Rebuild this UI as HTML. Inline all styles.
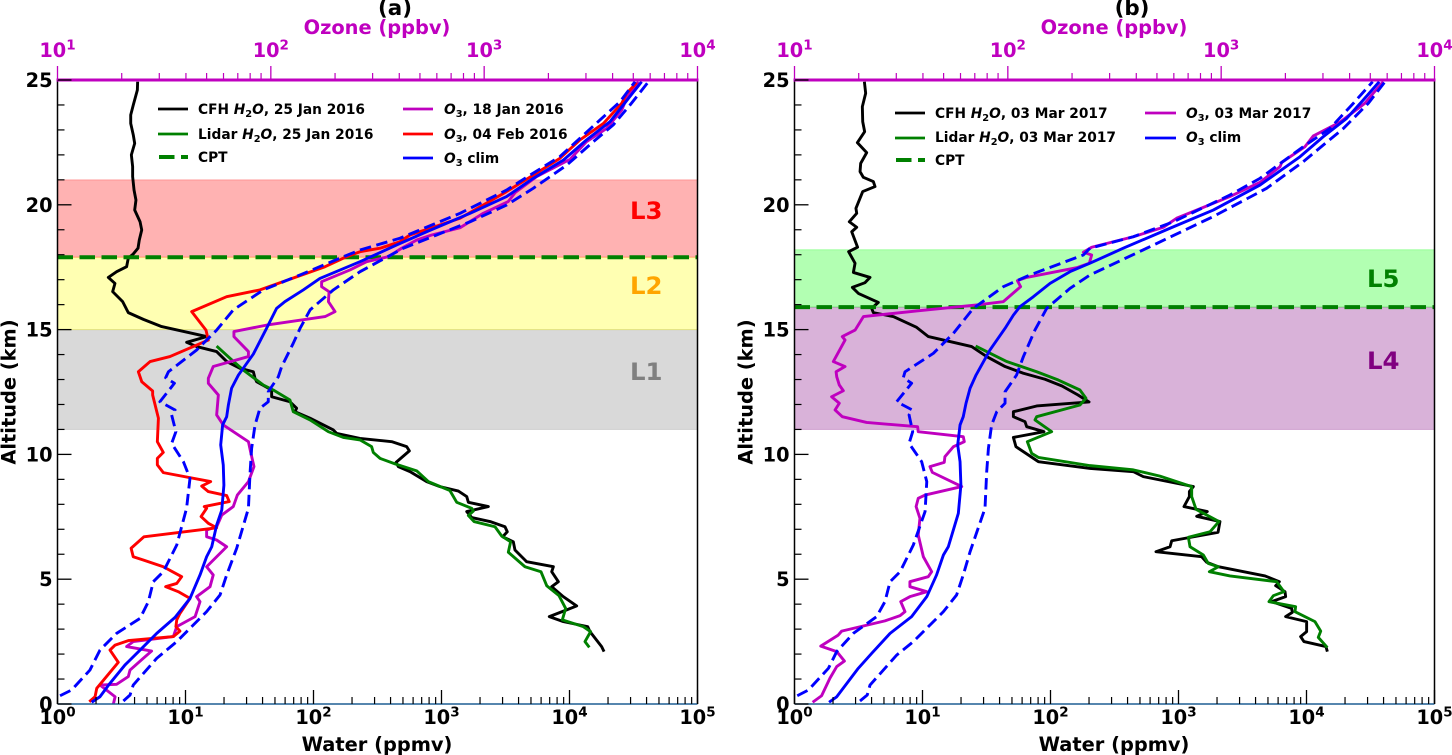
<!DOCTYPE html>
<html lang="en">
<head>
<meta charset="utf-8">
<title>Water vapour and ozone profiles</title>
<style>
html,body{margin:0;padding:0;background:#fff;width:1452px;height:755px;overflow:hidden}
svg{display:block}
text{font-family:"DejaVu Sans","Liberation Sans",sans-serif;font-weight:bold}
.leg{font-size:13.75px;fill:#000}
.m{font-style:italic}
.s{font-size:9.8px}
.tt{font-size:19.4px}
.reg{font-size:24.4px}
</style>
</head>
<body>
<svg id="chart" xmlns="http://www.w3.org/2000/svg" width="1452" height="755" viewBox="0 0 1452 755">
  <defs>
    <clipPath id="clip-a"><rect x="57.5" y="80" width="640" height="624"/></clipPath>
    <clipPath id="clip-b"><rect x="794.5" y="80" width="640" height="624"/></clipPath>
  </defs>
  <g id="panel-a"></g>
  <g id="panel-b"></g>

  <g>
    <text x="395" y="15" text-anchor="middle" font-size="21.4">(a)</text>
    <text class="tt" x="377" y="34" text-anchor="middle" fill="#bf00bf">Ozone (ppbv)</text>
    <text class="tt" x="377" y="751" text-anchor="middle">Water (ppmv)</text>
    <text class="tt" transform="translate(15.5,392) rotate(-90)" text-anchor="middle">Altitude (km)</text>
    <text class="reg" x="630" y="219" fill="#ff0000">L3</text>
    <text class="reg" x="630" y="294" fill="#ffa500">L2</text>
    <text class="reg" x="630" y="380" fill="#808080">L1</text>
    <g>
      <line x1="158" x2="188" y1="109" y2="109" stroke="#000" stroke-width="2.7"/>
      <line x1="158" x2="188" y1="134" y2="134" stroke="#008000" stroke-width="2.7"/>
      <line x1="159" x2="188" y1="157" y2="157" stroke="#008000" stroke-width="4" stroke-dasharray="15.5 6.5"/>
      <line x1="403" x2="433" y1="109" y2="109" stroke="#bf00bf" stroke-width="2.7"/>
      <line x1="403" x2="433" y1="134" y2="134" stroke="#ff0000" stroke-width="2.7"/>
      <line x1="403" x2="433" y1="158" y2="158" stroke="#0000ff" stroke-width="2.7"/>
      <text class="leg" x="198" y="114">CFH <tspan class="m">H</tspan><tspan class="s" dy="3">2</tspan><tspan class="m" dy="-3">O</tspan>, 25 Jan 2016</text>
      <text class="leg" x="198" y="139">Lidar <tspan class="m">H</tspan><tspan class="s" dy="3">2</tspan><tspan class="m" dy="-3">O</tspan>, 25 Jan 2016</text>
      <text class="leg" x="198" y="162">CPT</text>
      <text class="leg" x="444" y="114"><tspan class="m">O</tspan><tspan class="s" dy="3">3</tspan><tspan dy="-3">, 18 Jan 2016</tspan></text>
      <text class="leg" x="444" y="139"><tspan class="m">O</tspan><tspan class="s" dy="3">3</tspan><tspan dy="-3">, 04 Feb 2016</tspan></text>
      <text class="leg" x="444" y="163"><tspan class="m">O</tspan><tspan class="s" dy="3">3</tspan><tspan dy="-3"> clim</tspan></text>
    </g>
  </g>

  <g>
    <text x="1132" y="15" text-anchor="middle" font-size="21.4">(b)</text>
    <text class="tt" x="1114" y="34" text-anchor="middle" fill="#bf00bf">Ozone (ppbv)</text>
    <text class="tt" x="1114" y="751" text-anchor="middle">Water (ppmv)</text>
    <text class="tt" transform="translate(752.5,392) rotate(-90)" text-anchor="middle">Altitude (km)</text>
    <text class="reg" x="1367" y="287" fill="#008000">L5</text>
    <text class="reg" x="1367" y="369" fill="#800080">L4</text>
    <g>
      <line x1="895" x2="925" y1="113" y2="113" stroke="#000" stroke-width="2.7"/>
      <line x1="895" x2="925" y1="138" y2="138" stroke="#008000" stroke-width="2.7"/>
      <line x1="896" x2="925" y1="160" y2="160" stroke="#008000" stroke-width="4" stroke-dasharray="15.5 6.5"/>
      <line x1="1145" x2="1176" y1="113" y2="113" stroke="#bf00bf" stroke-width="2.7"/>
      <line x1="1145" x2="1176" y1="138" y2="138" stroke="#0000ff" stroke-width="2.7"/>
      <text class="leg" x="935" y="118">CFH <tspan class="m">H</tspan><tspan class="s" dy="3">2</tspan><tspan class="m" dy="-3">O</tspan>, 03 Mar 2017</text>
      <text class="leg" x="935" y="142">Lidar <tspan class="m">H</tspan><tspan class="s" dy="3">2</tspan><tspan class="m" dy="-3">O</tspan>, 03 Mar 2017</text>
      <text class="leg" x="935" y="165">CPT</text>
      <text class="leg" x="1186" y="118"><tspan class="m">O</tspan><tspan class="s" dy="3">3</tspan><tspan dy="-3">, 03 Mar 2017</tspan></text>
      <text class="leg" x="1186" y="142"><tspan class="m">O</tspan><tspan class="s" dy="3">3</tspan><tspan dy="-3"> clim</tspan></text>
    </g>
  </g>
</svg>

<script>
// Axis tick values
const waterDecades = [0, 1, 2, 3, 4, 5];
const ozoneDecades = [1, 2, 3, 4];
const altitudeMajor = [0, 5, 10, 15, 20, 25];
const altitudeMinor = [1, 2, 3, 4, 6, 7, 8, 9, 11, 12, 13, 14, 16, 17, 18, 19, 21, 22, 23, 24];
const minorMultiples = [2, 3, 4, 5, 6, 7, 8, 9];

// Layer altitude bounds (km)
const layersA = [[11, 15], [15, 17.9], [17.9, 21]];
const layersB = [[11, 15.9], [15.9, 18.2]];
// Cold point tropopause altitude (km)
const cptA = 17.9;
const cptB = 15.9;

// Profiles, every pair is [altitude km, log10 of mixing ratio]; water in ppmv, ozone in ppbv
const cfhWaterA = [[24.93,.626],[24.6,.624],[24,.592],[23.6,.572],[23.26,.572],[22.8,.592],[22.46,.603],[22,.577],[21.53,.587],[21.13,.587],[20.59,.598],[20.19,.613],[19.79,.603],[19.32,.645],[18.99,.658],[18.59,.639],[18.26,.629],[18.03,.592],[17.86,.553],[17.52,.54],[17.32,.462],[17.09,.397],[16.85,.449],[16.52,.431],[16.12,.509],[15.68,.553],[15.41,.671],[15.12,.814],[14.72,1.165],[14.49,1.009],[14.32,1.087],[14.12,1.243],[13.72,1.322],[13.45,1.426],[13.31,1.53],[13.05,1.543],[12.91,1.556],[12.58,1.673],[12.31,1.673],[12.11,1.816],[11.85,1.868],[11.71,1.855],[11.45,1.973],[10.98,2.155],[10.84,2.181],[10.64,2.363],[10.51,2.611],[10.31,2.728],[10.14,2.749],[9.68,2.645],[9.51,2.663],[9.31,2.754],[8.91,2.884],[8.71,2.988],[8.53,3.132],[8.31,3.197],[8.08,3.21],[7.91,3.366],[7.71,3.197],[7.47,3.236],[7.31,3.379],[7.1,3.496],[6.9,3.514],[6.7,3.478],[6.5,3.561],[6.17,3.574],[5.77,3.652],[5.7,3.665],[5.5,3.874],[5.3,3.861],[4.9,3.913],[4.7,3.861],[4.3,3.952],[3.93,4.056],[3.77,3.978],[3.5,3.842],[3.3,3.952],[3.1,4.142],[2.9,4.16],[2.3,4.251],[2.1,4.27]];
const lidarWaterA = [[14.34,1.243],[13.85,1.348],[13.38,1.452],[12.98,1.556],[12.78,1.608],[12.58,1.686],[12.18,1.816],[11.71,1.842],[11.38,1.973],[10.91,2.116],[10.68,2.233],[10.58,2.363],[10.31,2.454],[10.08,2.467],[9.84,2.52],[9.62,2.637],[9.34,2.806],[8.91,2.897],[8.55,3.066],[8.08,3.119],[7.84,3.236],[7.73,3.249],[7.55,3.21],[7.31,3.254],[7.1,3.418],[6.73,3.47],[6.5,3.54],[6.08,3.522],[5.5,3.652],[5.3,3.777],[4.74,3.822],[4.34,3.918],[3.83,3.97],[3.37,3.944],[3.1,4.108],[2.9,4.165],[2.5,4.121],[2.27,4.155]];
const ozoneJan18A = [[0,1.262],[.29,1.27],[.76,1.199],[.79,1.277],[1.1,1.332],[1.36,1.34],[1.83,1.402],[2.12,1.441],[2.3,1.324],[2.5,1.355],[2.7,1.543],[3.1,1.559],[3.5,1.645],[4.1,1.668],[4.3,1.652],[4.7,1.715],[5.17,1.73],[5.5,1.699],[6.3,1.793],[6.57,1.746],[6.7,1.699],[6.97,1.699],[7.1,1.746],[7.57,1.77],[7.91,1.824],[8.37,1.843],[8.91,1.895],[9.51,1.921],[10.11,1.905],[10.51,1.895],[11.18,1.777],[11.58,1.746],[12.38,1.754],[12.85,1.707],[13.05,1.707],[13.52,1.73],[13.92,1.895],[14.12,1.895],[14.72,1.827],[14.92,1.827],[15.18,1.98],[15.52,2.254],[15.72,2.301],[16.12,2.27],[16.52,2.273],[16.72,2.238],[16.92,2.238],[17.39,2.371],[17.59,2.418],[17.72,2.449],[17.92,2.551],[18.26,2.613],[18.59,2.684],[18.79,2.754],[19.08,2.887],[19.66,2.996],[20.13,3.113],[20.49,3.145],[21.13,3.246],[21.82,3.402],[22.53,3.48],[23.06,3.574],[23.8,3.645],[24.27,3.668],[24.93,3.723]];
const ozoneFeb04A = [[.09,1.149],[.29,1.176],[.63,1.184],[1.67,1.285],[2.16,1.246],[2.36,1.27],[2.54,1.332],[2.7,1.543],[2.92,1.574],[3.1,1.555],[3.37,1.559],[3.63,1.574],[4.23,1.621],[4.5,1.566],[4.7,1.507],[4.83,1.559],[5.1,1.582],[5.5,1.496],[5.77,1.402],[5.9,1.355],[6.24,1.345],[6.7,1.405],[7.06,1.746],[7.24,1.707],[7.51,1.673],[7.84,1.699],[7.91,1.688],[8.11,1.805],[8.35,1.793],[8.51,1.707],[8.73,1.676],[8.91,1.718],[9.27,1.496],[9.58,1.468],[9.84,1.468],[10.08,1.496],[10.51,1.468],[11.45,1.473],[12.38,1.446],[12.54,1.446],[12.91,1.395],[13.31,1.379],[13.72,1.434],[13.92,1.527],[14.58,1.707],[14.98,1.696],[15.72,1.629],[16.32,1.793],[16.59,1.949],[17.52,2.254],[17.92,2.355],[18.12,2.418],[18.26,2.512],[18.52,2.605],[18.79,2.652],[19.46,2.887],[20.53,3.105],[21.19,3.23],[21.86,3.355],[22.6,3.449],[23.26,3.559],[24.07,3.645],[24.47,3.668],[24.89,3.715]];
const ozoneClimA = [[.07,1.16],[.29,1.199],[.83,1.246],[1.56,1.316],[2.16,1.387],[2.83,1.465],[3.47,1.551],[4.23,1.621],[5.17,1.668],[5.9,1.699],[6.3,1.723],[7.17,1.746],[7.77,1.77],[8.77,1.78],[9.58,1.777],[10.38,1.765],[11.18,1.774],[11.51,1.793],[11.98,1.801],[12.65,1.816],[13.18,1.848],[14.02,1.918],[15.05,1.98],[15.85,2.027],[16.12,2.066],[16.59,2.152],[17.05,2.23],[17.72,2.418],[18.39,2.59],[18.92,2.73],[19.66,2.934],[20.33,3.105],[21.06,3.23],[21.79,3.371],[22.6,3.48],[23.33,3.59],[24,3.652],[24.93,3.738]];
const ozoneClimLowA = [[.33,1.012],[.56,1.066],[1.36,1.152],[2.16,1.199],[2.83,1.277],[3.43,1.387],[4.1,1.426],[4.9,1.449],[5.3,1.496],[6.37,1.559],[7.84,1.605],[9.04,1.621],[9.71,1.59],[10.44,1.535],[10.91,1.555],[11.58,1.535],[11.78,1.551],[12.11,1.48],[12.85,1.548],[13.07,1.507],[13.31,1.52],[14.18,1.652],[14.98,1.746],[15.79,1.824],[16.59,1.965],[17.19,2.137],[17.92,2.34],[18.19,2.418],[18.66,2.605],[19.66,2.887],[20.59,3.105],[21.19,3.215],[21.93,3.355],[23.4,3.543],[24.13,3.637],[24.93,3.707]];
const ozoneClimHighA = [[.12,1.309],[.36,1.34],[.76,1.355],[1.83,1.465],[2.5,1.559],[3.7,1.699],[4.37,1.762],[5.17,1.793],[6.24,1.84],[7.84,1.895],[9.17,1.902],[10.24,1.91],[11.18,1.926],[11.85,1.949],[12.11,1.988],[12.51,1.988],[13.11,2.035],[13.52,2.051],[14.45,2.105],[15.05,2.137],[15.79,2.184],[16.59,2.293],[17.32,2.418],[18.26,2.621],[18.79,2.777],[19.32,2.934],[19.99,3.105],[20.66,3.23],[21.59,3.387],[22.53,3.512],[23.2,3.605],[24,3.684],[24.93,3.77]];

const cfhWaterB = [[24.93,.546],[24.47,.556],[23.93,.53],[23.33,.533],[22.93,.548],[22.49,.491],[22.09,.564],[21.66,.517],[21.33,.512],[21.1,.538],[20.93,.616],[20.73,.629],[20.53,.533],[19.86,.48],[19.66,.486],[19.32,.428],[19.1,.486],[18.92,.447],[18.3,.493],[18.12,.423],[17.66,.473],[17.29,.46],[17.09,.59],[16.88,.551],[16.69,.452],[16.45,.499],[16.09,.655],[15.85,.603],[15.68,.616],[15.52,.772],[15.09,.954],[14.72,1.046],[14.52,1.215],[14.32,1.384],[13.92,1.501],[13.52,1.645],[13.25,1.788],[13.01,1.957],[12.74,2.09],[12.38,2.215],[12.1,2.301],[11.94,1.892],[11.71,1.71],[11.51,1.71],[11.31,1.801],[11.11,1.814],[10.91,1.949],[10.68,1.71],[10.31,1.73],[9.71,1.905],[9.44,2.309],[9.31,2.647],[9.11,2.725],[8.71,3.116],[8.51,3.085],[8.31,3.085],[7.91,3.043],[7.71,3.225],[7.52,3.142],[7.31,3.324],[6.88,3.309],[6.54,2.947],[6.3,2.934],[6.1,2.824],[5.9,3.181],[5.68,3.22],[5.5,3.311],[5.13,3.676],[4.9,3.788],[4.74,3.759],[4.5,3.832],[4.3,3.837],[4.1,3.728],[3.83,3.884],[3.67,3.889],[3.5,3.837],[3.3,4.001],[2.9,4.001],[2.7,3.954],[2.5,3.98],[2.3,4.152],[2.1,4.163]];
const lidarWaterB = [[14.34,1.415],[13.72,1.658],[13.31,1.892],[12.98,2.061],[12.58,2.23],[12.25,2.277],[11.98,2.23],[11.51,1.892],[11.38,1.879],[10.91,2.009],[10.51,1.819],[10.04,1.853],[9.88,1.905],[9.55,2.309],[9.38,2.647],[9.13,2.855],[8.71,3.103],[8.31,3.103],[7.8,3.137],[7.31,3.316],[6.9,3.246],[6.68,3.077],[6.3,3.09],[5.97,3.194],[5.63,3.233],[5.5,3.311],[5.3,3.241],[5.13,3.402],[4.9,3.767],[4.5,3.824],[4.34,3.741],[4.1,3.707],[3.9,3.915],[3.7,3.91],[3.3,4.066],[2.92,4.111],[2.67,4.092],[2.26,4.163]];
const ozoneMar03B = [[.07,1.085],[.33,1.127],[.76,1.151],[1.03,1.166],[1.5,1.198],[1.72,1.234],[2.1,1.198],[2.32,1.123],[2.76,1.205],[2.92,1.221],[3.33,1.424],[3.54,1.495],[3.7,1.518],[4.1,1.498],[4.3,1.541],[4.5,1.62],[4.7,1.541],[4.9,1.541],[5.1,1.627],[5.3,1.643],[5.9,1.604],[6.77,1.58],[7.44,1.588],[7.91,1.57],[8.24,1.58],[8.37,1.612],[8.71,1.784],[9.28,1.646],[9.51,1.635],[9.68,1.702],[9.91,1.705],[10.31,1.745],[10.51,1.796],[10.71,1.791],[10.91,1.58],[11.11,1.577],[11.28,1.338],[11.51,1.224],[11.78,1.19],[12.05,1.21],[12.31,1.174],[12.55,1.229],[12.78,1.21],[13.11,1.198],[13.31,1.195],[13.52,1.237],[13.72,1.182],[14.58,1.237],[14.72,1.224],[14.98,1.284],[15.52,1.323],[15.75,1.573],[15.99,1.854],[16.12,1.979],[16.72,2.06],[16.96,2.045],[17.09,2.088],[17.48,2.323],[17.66,2.382],[17.99,2.393],[18.1,2.354],[18.3,2.393],[18.72,2.588],[19.1,2.729],[19.46,2.791],[20.33,3.041],[20.9,3.182],[21.53,3.276],[21.7,3.284],[22.33,3.393],[22.76,3.432],[23.31,3.557],[24.07,3.674],[24.47,3.713],[24.93,3.76]];
const ozoneClimB = [[.07,1.162],[.29,1.198],[1.43,1.299],[2.03,1.362],[2.83,1.448],[3.5,1.549],[4.3,1.62],[5.17,1.666],[5.97,1.698],[6.3,1.721],[7.64,1.768],[8.77,1.78],[9.71,1.776],[10.38,1.765],[11.18,1.776],[11.51,1.791],[12.05,1.804],[12.65,1.823],[13.18,1.851],[14.18,1.916],[15.05,1.987],[15.58,2.026],[15.92,2.057],[16.32,2.12],[16.85,2.198],[17.32,2.291],[17.66,2.385],[18.26,2.541],[19.06,2.76],[19.79,2.963],[20.79,3.182],[21.93,3.37],[22.73,3.479],[23.46,3.588],[24.2,3.666],[24.93,3.741]];
const ozoneClimLowB = [[.33,1.013],[.56,1.065],[1.43,1.159],[2.1,1.198],[2.83,1.276],[3.5,1.385],[4.1,1.424],[4.9,1.448],[5.3,1.495],[6.37,1.557],[7.71,1.612],[8.91,1.62],[9.71,1.596],[10.44,1.537],[10.91,1.554],[11.58,1.537],[11.78,1.552],[12.11,1.479],[12.85,1.549],[13.07,1.51],[13.31,1.518],[14.05,1.651],[14.85,1.745],[15.85,1.838],[16.72,1.979],[17.19,2.104],[17.99,2.354],[18.26,2.385],[18.72,2.588],[19.32,2.776],[20.39,3.041],[21.06,3.182],[22.33,3.385],[23.06,3.51],[24.07,3.62],[24.93,3.71]];
const ozoneClimHighB = [[.12,1.307],[.36,1.341],[.76,1.354],[1.96,1.479],[2.5,1.557],[3.7,1.698],[4.37,1.76],[5.17,1.791],[6.1,1.823],[7.84,1.893],[9.31,1.901],[10.24,1.909],[11.18,1.924],[11.71,1.948],[12.05,1.987],[12.51,1.987],[13.18,2.041],[13.92,2.073],[14.98,2.127],[15.85,2.182],[16.65,2.291],[17.19,2.385],[18.26,2.651],[19.53,2.963],[20.66,3.213],[21.73,3.385],[23.06,3.573],[24.07,3.69],[24.93,3.768]];

const NS = 'http://www.w3.org/2000/svg';
const AX_W = 640, AX_H = 624, AX_TOP = 80, AX_BOTTOM = 704;
const MAGENTA = '#bf00bf';

function make(parent, tag, attrs) {
  const el = document.createElementNS(NS, tag);
  for (const k in attrs) el.setAttribute(k, attrs[k]);
  parent.appendChild(el);
  return el;
}

function drawPanel(cfg) {
  const root = document.getElementById(cfg.id);
  const left = cfg.left;
  const yAlt = z => AX_BOTTOM - (z / 25) * AX_H;
  const xWater = v => left + (v / 5) * AX_W;
  const xOzone = v => left + ((v - 1) / 3) * AX_W;

  // Layer bands
  cfg.layers.forEach((b, i) => {
    const band = make(root, 'rect', {x: left, y: yAlt(b[1]), width: AX_W, height: yAlt(b[0]) - yAlt(b[1]), fill: cfg.layerColors[i], 'fill-opacity': .3, stroke: cfg.layerColors[i], 'stroke-opacity': .25, 'stroke-width': 1});
    
    
  });

  // Series
  const line = (pairs, xf, color, dash, name) => {
    const d = pairs.map((p, i) => (i ? 'L' : 'M') + xf(p[1]).toFixed(2) + ' ' + yAlt(p[0]).toFixed(2)).join('');
    const attrs = {d: d, fill: 'none', stroke: color, 'stroke-width': 2.9, 'stroke-linejoin': 'round', 'clip-path': 'url(#' + cfg.clip + ')'};
    if (dash) attrs['stroke-dasharray'] = dash;
    const el = make(root, 'path', attrs);
    
    
  };
  line(cfg.cfh, xWater, '#000000', null, 'cfh-water-line');
  line(cfg.lidar, xWater, '#008000', null, 'lidar-water-line');

  const cpt = make(root, 'line', {x1: left, x2: left + AX_W, y1: yAlt(cfg.cpt), y2: yAlt(cfg.cpt), stroke: '#008000', 'stroke-width': 4, 'stroke-dasharray': '15.5 6.5'});
  
  

  cfg.ozone.forEach(s => line(s.data, xOzone, s.color, null, s.name));
  line(cfg.clim, xOzone, '#0000ff', null, 'ozone-clim-line');
  line(cfg.climLow, xOzone, '#0000ff', '11.5 5.5', 'ozone-clim-lower-line');
  line(cfg.climHigh, xOzone, '#0000ff', '11.5 5.5', 'ozone-clim-upper-line');

  // Spines
  const spL = make(root, 'line', {x1: left, x2: left, y1: AX_TOP, y2: AX_BOTTOM, stroke: '#000', 'stroke-width': 1.5});
  
  
  const spR = make(root, 'line', {x1: left + AX_W, x2: left + AX_W, y1: AX_TOP, y2: AX_BOTTOM, stroke: '#000', 'stroke-width': 1.5});
  
  
  const spB = make(root, 'line', {x1: left, x2: left + AX_W, y1: AX_BOTTOM, y2: AX_BOTTOM, stroke: '#1f5f94', 'stroke-width': 1.5});
  
  
  const spT = make(root, 'line', {x1: left - 1, x2: left + AX_W + 1, y1: AX_TOP, y2: AX_TOP, stroke: MAGENTA, 'stroke-width': 3});
  
  

  // Altitude ticks
  altitudeMajor.forEach(z => {
    const t = make(root, 'line', {x1: left, x2: left + 14, y1: yAlt(z), y2: yAlt(z), stroke: '#000', 'stroke-width': 1.3});
    
    
    const lab = make(root, 'text', {x: left - 5, y: yAlt(z) + 7, 'text-anchor': 'end', 'font-size': 19.3});
    lab.textContent = String(z);
    
    
  });
  altitudeMinor.forEach(z => {
    const t = make(root, 'line', {x1: left, x2: left + 7, y1: yAlt(z), y2: yAlt(z), stroke: '#000', 'stroke-width': 1.2});
    
    
  });

  // Log-axis ticks and labels
  const powerLabel = (x, y, exp, color, name) => {
    const lab = make(root, 'text', {x: x, y: y, 'text-anchor': 'middle', 'font-size': 19.3, fill: color});
    
    
    const base = make(lab, 'tspan', {});
    base.textContent = '10';
    const sup = make(lab, 'tspan', {dy: -7.5, 'font-size': 13.5});
    sup.textContent = String(exp);
  };
  waterDecades.forEach(d => {
    const t = make(root, 'line', {x1: xWater(d), x2: xWater(d), y1: AX_BOTTOM, y2: AX_BOTTOM - 14, stroke: '#000', 'stroke-width': 1.3});
    
    
    powerLabel(xWater(d), 724, d, '#000', 'water-tick-label');
    if (d < 5) minorMultiples.forEach(m => {
      const x = xWater(d + Math.log10(m));
      const tm = make(root, 'line', {x1: x, x2: x, y1: AX_BOTTOM, y2: AX_BOTTOM - 7, stroke: '#000', 'stroke-width': 1.2});
      
      
    });
  });
  ozoneDecades.forEach(d => {
    const t = make(root, 'line', {x1: xOzone(d), x2: xOzone(d), y1: AX_TOP, y2: AX_TOP - 14, stroke: MAGENTA, 'stroke-width': 1.3});
    
    
    powerLabel(xOzone(d), 57, d, MAGENTA, 'ozone-tick-label');
    if (d < 4) minorMultiples.forEach(m => {
      const x = xOzone(d + Math.log10(m));
      const tm = make(root, 'line', {x1: x, x2: x, y1: AX_TOP, y2: AX_TOP - 7, stroke: MAGENTA, 'stroke-width': 1.2});
      
      
    });
  });
}

drawPanel({
  id: 'panel-a', clip: 'clip-a', left: 57.5,
  layers: layersA, layerColors: ['#808080', '#ffff00', '#ff0000'], cpt: cptA,
  cfh: cfhWaterA, lidar: lidarWaterA,
  ozone: [{data: ozoneJan18A, color: MAGENTA, name: 'ozone-18-jan-line'}, {data: ozoneFeb04A, color: '#ff0000', name: 'ozone-04-feb-line'}],
  clim: ozoneClimA, climLow: ozoneClimLowA, climHigh: ozoneClimHighA
});
drawPanel({
  id: 'panel-b', clip: 'clip-b', left: 794.5,
  layers: layersB, layerColors: ['#800080', '#00ff00'], cpt: cptB,
  cfh: cfhWaterB, lidar: lidarWaterB,
  ozone: [{data: ozoneMar03B, color: MAGENTA, name: 'ozone-03-mar-line'}],
  clim: ozoneClimB, climLow: ozoneClimLowB, climHigh: ozoneClimHighB
});
</script>
</body>
</html>
